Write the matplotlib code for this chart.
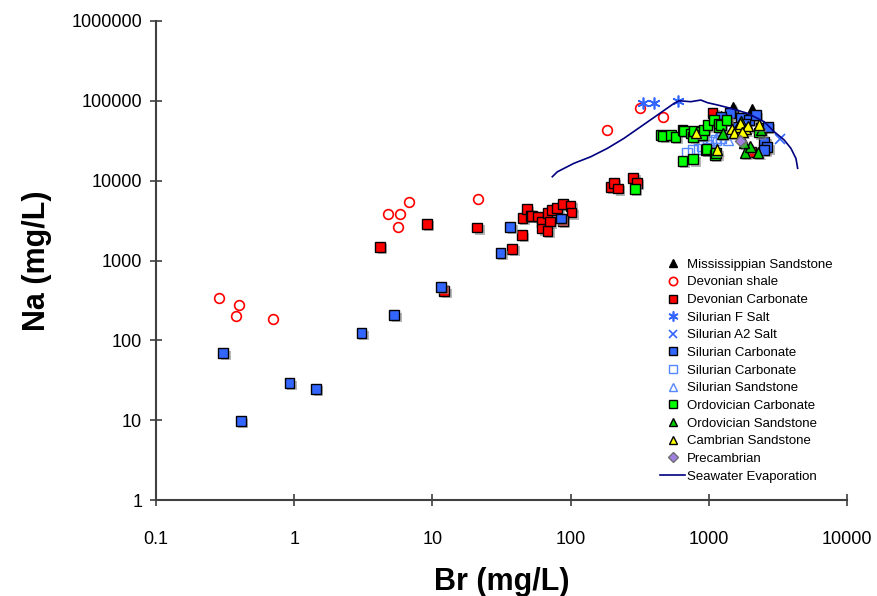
import matplotlib
matplotlib.use('Agg')
import matplotlib.pyplot as plt
import matplotlib.patheffects as pe
from matplotlib.lines import Line2D

plt.rcParams['font.family'] = ['Liberation Sans', 'DejaVu Sans']

# Br (mg/L) and Na (mg/L) values
miss_br = [1500, 2050, 1222]
miss_na = [84300, 78900, 64500]

shale_br = [0.286, 0.38, 0.40, 0.70, 4.8, 5.86, 5.6, 6.8, 21.2, 182, 316, 470]
shale_na = [338, 201, 276, 184, 3810, 3810, 2620, 5400, 5880, 43000, 82000, 63000]

dev_carb_br = [4.18, 9.1, 12.2, 21.1, 37.8, 44.4, 44.9, 48.2, 51.3, 52.7, 58.3, 62.3,
               62.3, 68.1, 68.1, 71, 73.7, 80, 87.9, 100, 101.6, 87.8, 195, 206, 220,
               284, 301, 1064, 2015, 1350]
dev_carb_na = [1485, 2880, 414, 2600, 1400, 2080, 3400, 4400, 3630, 3600, 3570, 3060,
               2520, 2360, 3960, 3080, 4280, 4500, 5090, 4850, 4000, 3150, 8390, 9420, 8010,
               10900, 9420, 71000, 23000, 58600]

f_salt_br = [333, 401, 603]
f_salt_na = [94700, 94700, 98600]

a2_salt_br = [3270]
a2_salt_na = [32900]

sil_carb_br = [0.307, 0.411, 0.925, 1.44, 3.07, 5.3, 11.6, 31.1, 36.6, 84.7, 1427, 1700,
               1960, 2380, 2520, 2650, 2520, 2680, 1615, 1840, 1222, 2190]
sil_carb_na = [69.7, 9.8, 29.3, 24.7, 124, 207, 464, 1240, 2620, 3370, 69700, 60500,
               57400, 45200, 30700, 26200, 24200, 47400, 47400, 52000, 63200, 66400]

sil_carb2_br = [701, 770, 850, 900, 979, 1040, 1130, 1222, 1010]
sil_carb2_na = [22000, 24200, 24600, 26800, 28000, 30800, 32300, 33900, 25400]

sil_sand_br = [1130, 1262, 1380]
sil_sand_na = [33900, 38300, 32300]

ord_carb_br = [291, 449, 467, 531, 574, 645, 662, 740, 770, 780, 875, 900, 923, 979, 1090,
               1188, 1188, 1222, 1340, 645, 773, 950, 962, 1105, 1130, 2300]
ord_carb_na = [7910, 37200, 36500, 37600, 35500, 43300, 42200, 39000, 35500, 42200, 41000,
               37600, 43300, 49500, 57400, 47400, 52000, 49600, 57400, 17800, 18500, 24200,
               24700, 20900, 22000, 40000]

ord_sand_br = [1824, 2270, 2000, 1800, 2380, 1260, 1700]
ord_sand_na = [22400, 22400, 26800, 29900, 43300, 39000, 55000]

camb_br = [805, 1145, 1460, 1615, 1690, 1840, 1907, 2300, 1520, 1750]
camb_na = [39800, 24600, 44000, 47400, 52000, 44000, 48300, 50600, 39800, 41000]

pre_br = [1690]
pre_na = [31600]

sea_br = [73.7, 80.1, 105.7, 139.6, 184.5, 243.3, 321.4, 424.9, 560.8, 609.6, 740.6, 874.8,
          978.8, 1156, 1443, 1907, 2517, 2973, 3513, 3928, 4269, 4394]
sea_na = [11200, 12900, 16500, 19900, 25400, 33900, 47400, 66400, 93000, 100200, 97500,
          102300, 94700, 88700, 80500, 69700, 54700, 41000, 32300, 25400, 19000, 14300]

labels = ['Mississippian Sandstone', 'Devonian shale', 'Devonian Carbonate',
          'Silurian F Salt', 'Silurian A2 Salt', 'Silurian Carbonate',
          'Silurian Carbonate', 'Silurian Sandstone', 'Ordovician Carbonate',
          'Ordovician Sandstone', 'Cambrian Sandstone', 'Precambrian']

blue = '#3366FF'
styles = [
    dict(marker='^', mfc='black', mec='black', ms=7.5),
    dict(marker='o', mfc='none', mec='red', ms=7, mew=1.2),
    dict(marker='s', mfc='red', mec='black', ms=7),
    dict(marker=(6, 2, 0), mfc=blue, mec=blue, ms=8.5, mew=1.2),
    dict(marker='x', mfc=blue, mec=blue, ms=7.5, mew=1.2),
    dict(marker='s', mfc=blue, mec='black', ms=7),
    dict(marker='s', mfc='none', mec='#5588FF', ms=7),
    dict(marker='^', mfc='none', mec='#5588FF', ms=7.5),
    dict(marker='s', mfc='#00FF00', mec='black', ms=7),
    dict(marker='^', mfc='#00CC00', mec='black', ms=7.5),
    dict(marker='^', mfc='#FFFF00', mec='black', ms=7.5),
    dict(marker='D', mfc='#A080E0', mec='#707070', ms=5.5),
]
# filled markers get the grey drop shadow, open ones do not
has_shadow = [True, False, True, False, False, True, False, False, True, True, True, True]
series = [(miss_br, miss_na), (shale_br, shale_na), (dev_carb_br, dev_carb_na),
          (f_salt_br, f_salt_na), (a2_salt_br, a2_salt_na), (sil_carb_br, sil_carb_na),
          (sil_carb2_br, sil_carb2_na), (sil_sand_br, sil_sand_na),
          (ord_carb_br, ord_carb_na), (ord_sand_br, ord_sand_na),
          (camb_br, camb_na), (pre_br, pre_na)]

fig = plt.figure(figsize=(8.78, 5.96), dpi=100)
ax = fig.add_axes([0.1777, 0.161, 0.787, 0.8038])

shadow = [pe.SimplePatchShadow(offset=(1.8, -1.8), shadow_rgbFace='#888888', alpha=0.6),
          pe.Normal()]

handles = []
for (x, y), st, lab, sh in zip(series, styles, labels, has_shadow):
    st = dict(st)
    st.setdefault('mew', 1.0)
    ax.plot(x, y, linestyle='none', path_effects=shadow if sh else [], **st)
    leg_st = dict(st)
    leg_st['ms'] = st['ms'] * 0.85
    handles.append(Line2D([], [], linestyle='none', label=lab, **leg_st))

ax.plot(sea_br, sea_na, color='#000080', lw=1.2)
handles.append(Line2D([], [], color='#000080', lw=1.2, label='Seawater Evaporation'))

ax.set_xscale('log')
ax.set_yscale('log')
ax.set_xlim(0.1, 10000)
ax.set_ylim(1, 1000000)
ax.set_xticks([0.1, 1, 10, 100, 1000, 10000])
ax.set_xticklabels(['0.1', '1', '10', '100', '1000', '10000'])
ax.set_yticks([1, 10, 100, 1000, 10000, 100000, 1000000])
ax.set_yticklabels(['1', '10', '100', '1000', '10000', '100000', '1000000'])
ax.minorticks_off()

for s in ['top', 'right']:
    ax.spines[s].set_visible(False)
for s in ['left', 'bottom']:
    ax.spines[s].set_color('#404040')
    ax.spines[s].set_linewidth(1.5)
ax.tick_params(axis='x', direction='inout', length=8, width=1.2, color='#404040',
               labelsize=13, pad=18)
ax.tick_params(axis='y', direction='inout', length=8, width=1.2, color='#404040',
               labelsize=13, pad=6)

ax.set_xlabel('Br (mg/L)', fontsize=22, fontweight='bold', labelpad=14)
ax.set_ylabel('Na (mg/L)', fontsize=22, fontweight='bold', labelpad=14)

ax.legend(handles=handles, loc='upper left', bbox_to_anchor=(0.722, 0.515),
          frameon=False, fontsize=9.5, handlelength=1.9, handletextpad=0.15,
          labelspacing=0.41, borderaxespad=0)

fig.savefig('out.png', dpi=100)
